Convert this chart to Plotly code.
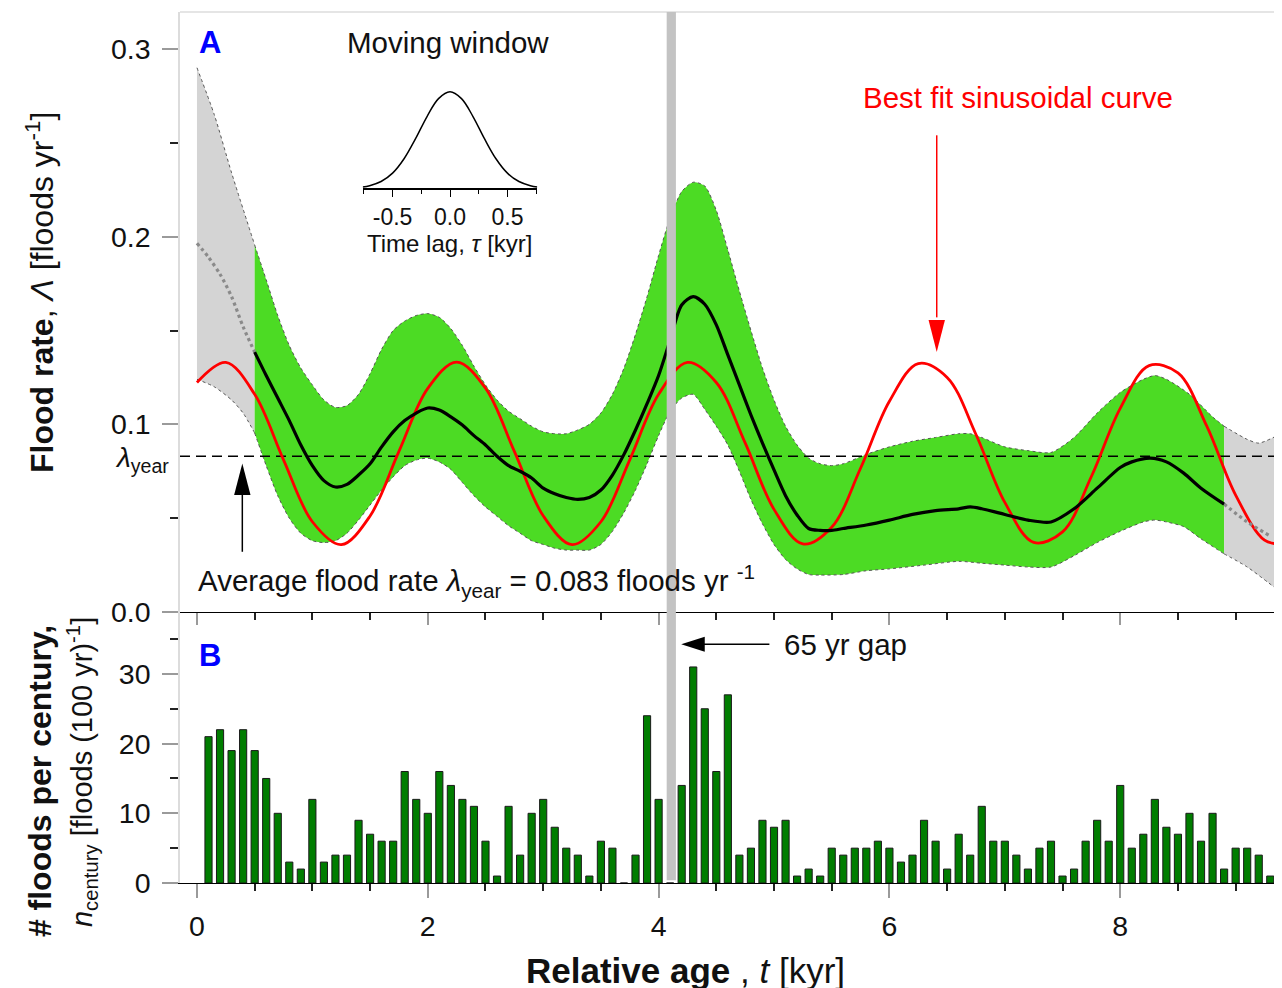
import plotly.graph_objects as go

FONT = "Liberation Sans, Arial, sans-serif"

# ---------------- data ----------------
# Panel B: number of floods per century (bar centres in kyr)
century_t = [0.1, 0.2, 0.3, 0.4, 0.5, 0.6, 0.7, 0.8, 0.9, 1.0,
             1.1, 1.2, 1.3, 1.4, 1.5, 1.6, 1.7, 1.8, 1.9, 2.0,
             2.1, 2.2, 2.3, 2.4, 2.5, 2.6, 2.7, 2.8, 2.9, 3.0,
             3.1, 3.2, 3.3, 3.4, 3.5, 3.6, 3.7, 3.8, 3.9, 4.0,
             4.1, 4.2, 4.3, 4.4, 4.5, 4.6, 4.7, 4.8, 4.9, 5.0,
             5.1, 5.2, 5.3, 5.4, 5.5, 5.6, 5.7, 5.8, 5.9, 6.0,
             6.1, 6.2, 6.3, 6.4, 6.5, 6.6, 6.7, 6.8, 6.9, 7.0,
             7.1, 7.2, 7.3, 7.4, 7.5, 7.6, 7.7, 7.8, 7.9, 8.0,
             8.1, 8.2, 8.3, 8.4, 8.5, 8.6, 8.7, 8.8, 8.9, 9.0,
             9.1, 9.2, 9.3]
floods_per_century = [21, 22, 19, 22, 19, 15, 10, 3, 2, 12,
                      3, 4, 4, 9, 7, 6, 6, 16, 12, 10,
                      16, 14, 12, 11, 6, 1, 11, 4, 10, 12,
                      8, 5, 4, 1, 6, 5, 0, 4, 24, 12,
                      0, 14, 31, 25, 16, 27, 4, 5, 9, 8,
                      9, 1, 2, 1, 5, 4, 5, 5, 6, 5,
                      3, 4, 9, 6, 2, 7, 4, 11, 6, 6,
                      4, 2, 5, 6, 1, 2, 6, 9, 6, 14,
                      5, 7, 12, 8, 7, 10, 6, 10, 2, 5,
                      5, 4, 1]

# Panel A: confidence band of the flood rate (floods / yr)
band_upper_t = [0.0, 0.15, 0.3, 0.5, 0.6, 0.7, 0.8, 0.9, 1.0, 1.1, 1.2, 1.3, 1.4, 1.5,
                1.6, 1.7, 1.8, 1.9, 2.0, 2.1, 2.2, 2.3, 2.4, 2.5, 2.6, 2.7, 2.8, 2.9,
                3.0, 3.1, 3.2, 3.3, 3.4, 3.5, 3.6, 3.7, 3.8, 3.9, 4.0, 4.1, 4.2, 4.3,
                4.4, 4.5, 4.6, 4.7, 4.8, 4.9, 5.0, 5.1, 5.2, 5.3, 5.4, 5.5, 5.6, 5.8,
                6.0, 6.2, 6.4, 6.6, 6.7, 6.8, 7.0, 7.2, 7.4, 7.6, 7.8, 8.0, 8.2, 8.3,
                8.4, 8.6, 8.8, 8.9, 9.1, 9.2, 9.36]
band_upper = [0.290, 0.265, 0.234, 0.1956, 0.177, 0.158, 0.142, 0.130, 0.121, 0.113,
              0.109, 0.110, 0.116, 0.127, 0.140, 0.150, 0.155, 0.158, 0.159, 0.157,
              0.151, 0.142, 0.131, 0.121, 0.113, 0.107, 0.103, 0.099, 0.096, 0.095,
              0.095, 0.097, 0.100, 0.106, 0.116, 0.130, 0.148, 0.168, 0.190, 0.210,
              0.224, 0.229, 0.227, 0.214, 0.193, 0.171, 0.150, 0.130, 0.113, 0.099,
              0.089, 0.082, 0.079, 0.078, 0.079, 0.084, 0.088, 0.091, 0.093, 0.095,
              0.095, 0.093, 0.088, 0.086, 0.085, 0.093, 0.106, 0.117, 0.124, 0.126,
              0.124, 0.116, 0.104, 0.099, 0.092, 0.090, 0.094]
band_lower_t = [0.0, 0.15, 0.3, 0.4, 0.5, 0.6, 0.7, 0.8, 0.9, 1.0, 1.1, 1.2, 1.3, 1.4,
                1.5, 1.6, 1.7, 1.8, 1.9, 2.0, 2.1, 2.2, 2.3, 2.4, 2.5, 2.6, 2.7, 2.8,
                2.9, 3.0, 3.1, 3.2, 3.3, 3.4, 3.5, 3.6, 3.7, 3.8, 3.9, 4.0, 4.1, 4.2,
                4.3, 4.4, 4.5, 4.6, 4.7, 4.8, 4.9, 5.0, 5.1, 5.2, 5.3, 5.4, 5.6, 5.8,
                6.0, 6.3, 6.6, 6.8, 7.0, 7.2, 7.4, 7.6, 7.8, 8.0, 8.2, 8.3, 8.4, 8.55,
                8.7, 8.9, 9.1, 9.36]
band_lower = [0.124, 0.120, 0.113, 0.106, 0.0954, 0.078, 0.062, 0.050, 0.042, 0.038,
              0.037, 0.038, 0.042, 0.049, 0.057, 0.065, 0.072, 0.078, 0.081, 0.082,
              0.080, 0.076, 0.069, 0.062, 0.056, 0.051, 0.046, 0.042, 0.038, 0.036,
              0.034, 0.033, 0.033, 0.033, 0.036, 0.043, 0.053, 0.065, 0.079, 0.094,
              0.107, 0.114, 0.116, 0.108, 0.099, 0.089, 0.075, 0.060, 0.047, 0.036,
              0.028, 0.023, 0.020, 0.0197, 0.020, 0.022, 0.023, 0.025, 0.027, 0.026,
              0.025, 0.024, 0.024, 0.030, 0.037, 0.043, 0.048, 0.049, 0.048, 0.0455,
              0.039, 0.031, 0.024, 0.012]

# Panel A: moving-window flood rate
mean_t = [0.0, 0.1, 0.2, 0.3, 0.4, 0.5, 0.6, 0.7, 0.8, 0.9, 1.0, 1.1, 1.2, 1.3, 1.4,
          1.5, 1.6, 1.7, 1.8, 1.9, 2.0, 2.1, 2.2, 2.3, 2.4, 2.5, 2.6, 2.7, 2.8, 2.9,
          3.0, 3.1, 3.2, 3.3, 3.4, 3.5, 3.6, 3.7, 3.8, 3.9, 4.0, 4.1, 4.2, 4.3, 4.4,
          4.5, 4.6, 4.7, 4.8, 4.9, 5.0, 5.1, 5.2, 5.3, 5.4, 5.5, 5.6, 5.8, 6.0, 6.2,
          6.4, 6.6, 6.7, 6.8, 7.0, 7.2, 7.4, 7.6, 7.8, 8.0, 8.1, 8.26, 8.4, 8.55, 8.7,
          8.9, 9.1, 9.3]
mean_rate = [0.1965, 0.189, 0.180, 0.168, 0.152, 0.1385, 0.126, 0.114, 0.102, 0.089,
             0.078, 0.070, 0.0666, 0.068, 0.073, 0.079, 0.088, 0.096, 0.102, 0.106,
             0.1087, 0.1076, 0.104, 0.0996, 0.094, 0.089, 0.083, 0.078, 0.075, 0.0714,
             0.066, 0.063, 0.061, 0.060, 0.061, 0.065, 0.073, 0.084, 0.097, 0.111,
             0.126, 0.145, 0.1636, 0.168, 0.164, 0.153, 0.137, 0.121, 0.105, 0.090,
             0.0757, 0.062, 0.0517, 0.0445, 0.0435, 0.0435, 0.0445, 0.0464, 0.049, 0.052,
             0.054, 0.055, 0.056, 0.055, 0.052, 0.049, 0.048, 0.055, 0.066, 0.077,
             0.080, 0.082, 0.080, 0.074, 0.066, 0.0575, 0.048, 0.0405]

# Panel A: best fit sinusoidal curve
sine_t = [0.0, 0.25, 0.5, 0.75, 1.0, 1.25, 1.5, 1.75, 2.0, 2.25, 2.5, 2.75, 3.0, 3.25,
          3.5, 3.75, 4.0, 4.25, 4.5, 4.75, 5.0, 5.25, 5.5, 5.75, 6.0, 6.25, 6.5, 6.75,
          7.0, 7.25, 7.5, 7.75, 8.0, 8.25, 8.5, 8.75, 9.0, 9.25, 9.4]
sine_rate = [0.1223, 0.1330, 0.1160, 0.0811, 0.0481, 0.0359, 0.0512, 0.0856, 0.1192,
             0.1332, 0.1193, 0.0856, 0.0513, 0.0359, 0.0481, 0.0811, 0.1160, 0.1330,
             0.1223, 0.0901, 0.0547, 0.0363, 0.0452, 0.0766, 0.1123, 0.1324, 0.1250,
             0.0946, 0.0584, 0.0371, 0.0427, 0.0722, 0.1085, 0.1313, 0.1274, 0.0990,
             0.0623, 0.0383, 0.0363]

lambda_year = 0.083          # average flood rate, floods / yr
observed_range = [0.5, 8.9]  # kyr, where the band is green
gap_range = [4.07, 4.15]     # 65 yr gap, kyr

# Inset: moving-window weight vs time lag
window_tau = [-0.76, -0.7, -0.6, -0.5, -0.4, -0.3, -0.2, -0.1, 0.0,
              0.1, 0.2, 0.3, 0.4, 0.5, 0.6, 0.7, 0.76]
window_weight = [0.014, 0.027, 0.070, 0.157, 0.306, 0.514, 0.744, 0.929, 1.0,
                 0.929, 0.744, 0.514, 0.306, 0.157, 0.070, 0.027, 0.014]

X_RANGE = [-0.147, 9.471]
YA_RANGE = [0, 0.3197]
YB_RANGE = [0, 38.88]
SPLIT = 0.3111


def part(ts, vs, lo, hi):
    pts = [(t, v) for t, v in zip(ts, vs) if lo - 1e-9 <= t <= hi + 1e-9]
    return [p[0] for p in pts], [p[1] for p in pts]


fig = go.Figure()

# confidence band segments
segments = [(0.0, observed_range[0], "#d4d4d4"),
            (observed_range[0], observed_range[1], "#4cdb24"),
            (observed_range[1], 9.5, "#d4d4d4")]
edge = dict(color="#555555", width=1, dash="dot", shape="spline", smoothing=0.7)
for lo, hi, col in segments:
    lx, ly = part(band_lower_t, band_lower, lo, hi)
    ux, uy = part(band_upper_t, band_upper, lo, hi)
    fig.add_trace(go.Scatter(x=lx, y=ly, mode="lines", line=edge,
                             xaxis="x", yaxis="y", hoverinfo="skip"))
    fig.add_trace(go.Scatter(x=ux, y=uy, mode="lines", line=edge, fill="tonexty",
                             fillcolor=col, xaxis="x", yaxis="y", hoverinfo="skip"))

# average flood rate line
fig.add_trace(go.Scatter(x=X_RANGE, y=[lambda_year, lambda_year], mode="lines",
                         line=dict(color="black", width=1.5, dash="10px,6px"),
                         xaxis="x", yaxis="y", hoverinfo="skip"))

# sinusoid
fig.add_trace(go.Scatter(x=sine_t, y=sine_rate, mode="lines",
                         line=dict(color="#ff0000", width=2.8, shape="spline", smoothing=1.0),
                         xaxis="x", yaxis="y"))

# mean flood rate: dotted outside observed range, solid inside
for lo, hi, sty in [(0.0, observed_range[0], "dot"), (observed_range[1], 9.5, "dot"),
                    (observed_range[0], observed_range[1], "solid")]:
    mx, my = part(mean_t, mean_rate, lo, hi)
    fig.add_trace(go.Scatter(x=mx, y=my, mode="lines",
                             line=dict(color="#8a8a8a" if sty == "dot" else "black",
                                       width=3.2, dash=sty, shape="spline", smoothing=0.8),
                             xaxis="x", yaxis="y"))

# bars
fig.add_trace(go.Bar(x=century_t, y=floods_per_century, width=0.062,
                     marker=dict(color="#007d00", line=dict(color="#1a1a1a", width=1)),
                     xaxis="x2", yaxis="y2"))

# inset kernel
fig.add_trace(go.Scatter(x=window_tau, y=window_weight, mode="lines",
                         line=dict(color="black", width=1.5, shape="spline", smoothing=1.0),
                         xaxis="x4", yaxis="y4"))

tick_font = dict(family=FONT, size=28.5, color="#111")

fig.update_layout(
    width=1282, height=988,
    margin=dict(l=172, r=0, t=4, b=113, autoexpand=False),
    paper_bgcolor="white", plot_bgcolor="rgba(0,0,0,0)",
    showlegend=False, hovermode=False,
    font=dict(family=FONT, size=28, color="#111"),
    xaxis=dict(domain=[0, 1], anchor="y", range=X_RANGE, showticklabels=False, automargin=False,
               showline=True, linecolor="black", linewidth=1, showgrid=False, zeroline=False,
               ticks="outside", tick0=0, dtick=2, ticklen=12, tickcolor="#9a9a9a", tickwidth=1.5,
               minor=dict(ticks="outside", dtick=0.5, tick0=0, ticklen=7, tickcolor="#222")),
    xaxis3=dict(overlaying="x", anchor="y", side="bottom", range=X_RANGE, showticklabels=False,
                automargin=False, showline=False, showgrid=False, zeroline=False,
                ticks="inside", tick0=0, dtick=2, ticklen=12, tickcolor="#9a9a9a", tickwidth=1.5,
                minor=dict(ticks="inside", dtick=0.5, tick0=0, ticklen=7, tickcolor="#222")),
    yaxis=dict(domain=[SPLIT, 1], anchor="x", range=YA_RANGE, tick0=0, dtick=0.1, automargin=False,
               tickformat=".1f", ticks="outside", ticklen=16, tickcolor="#9a9a9a", tickwidth=1.5,
               minor=dict(ticks="outside", dtick=0.05, tick0=0, ticklen=8, tickcolor="#222"),
               showline=True, linecolor="#dcdcdc", linewidth=1.5, showgrid=False, zeroline=False,
               tickfont=tick_font, ticklabelstandoff=6),
    xaxis2=dict(domain=[0, 1], anchor="y2", range=X_RANGE, tick0=0, dtick=2, automargin=False,
                ticks="outside", ticklen=14, tickcolor="#9a9a9a", tickwidth=1.5,
                minor=dict(ticks="outside", dtick=0.5, tick0=0, ticklen=7, tickcolor="#222"),
                showline=True, linecolor="black", linewidth=1, showgrid=False, zeroline=False,
                tickfont=tick_font, ticklabelstandoff=4),
    yaxis2=dict(domain=[0, SPLIT], anchor="x2", range=YB_RANGE, tick0=0, dtick=10, automargin=False,
                ticks="outside", ticklen=16, tickcolor="#9a9a9a", tickwidth=1.5,
                minor=dict(ticks="outside", dtick=5, tick0=0, ticklen=8, tickcolor="#222"),
                showline=True, linecolor="#dcdcdc", linewidth=1.5,
                showgrid=False, zeroline=False, tickfont=tick_font, ticklabelstandoff=6),
    yaxis5=dict(overlaying="y2", anchor="free", position=0.9928, side="right", range=YB_RANGE,
                automargin=False, showticklabels=False, showline=False, showgrid=False,
                zeroline=False, ticks="inside", tick0=0, dtick=10, ticklen=11,
                tickcolor="#9a9a9a", tickwidth=1.5,
                minor=dict(ticks="inside", dtick=5, tick0=0, ticklen=6, tickcolor="#222")),
    xaxis4=dict(domain=[0.1646, 0.3219], anchor="y4", range=[-0.76, 0.76], automargin=False,
                showline=True, linecolor="black", linewidth=1.5, showgrid=False, zeroline=False,
                ticks="outside", ticklen=7, tickcolor="black",
                tickvals=[-0.5, 0, 0.5], ticktext=["-0.5", "0.0", "0.5"],
                minor=dict(ticks="outside", tickvals=[-0.75, -0.25, 0.25, 0.75], ticklen=4,
                           tickcolor="black"),
                tickfont=dict(family=FONT, size=23, color="#111")),
    yaxis4=dict(domain=[0.7976, 0.9139], anchor="x4", range=[0, 1.05], visible=False,
                automargin=False),
)

# ---------------- shapes ----------------
shapes = [
    dict(type="line", xref="paper", yref="paper", x0=0, x1=1, y0=1, y1=1,
         line=dict(color="#dcdcdc", width=1.5)),
    dict(type="rect", xref="x", yref="y", x0=gap_range[0], x1=gap_range[1],
         y0=YA_RANGE[0], y1=YA_RANGE[1], fillcolor="#c3c3c3", line=dict(width=0), layer="above"),
    dict(type="rect", xref="x2", yref="y2", x0=gap_range[0], x1=gap_range[1],
         y0=0.4, y1=YB_RANGE[1], fillcolor="#c3c3c3", line=dict(width=0), layer="above"),
]

# black arrow to the average line
ax_t = 0.393
shapes += [
    dict(type="line", xref="x", yref="y", x0=ax_t, x1=ax_t, y0=0.0321, y1=0.064,
         line=dict(color="black", width=1.5), layer="above"),
    dict(type="path", xref="x", yref="y",
         path=f"M {ax_t-0.071},0.0623 L {ax_t},0.0792 L {ax_t+0.071},0.0623 Z",
         fillcolor="black", line=dict(width=0), layer="above"),
]
# red arrow to the sinusoid peak
rx = 6.41
shapes += [
    dict(type="line", xref="x", yref="y", x0=rx, x1=rx, y0=0.254, y1=0.157,
         line=dict(color="#ff0000", width=1.5), layer="above"),
    dict(type="path", xref="x", yref="y",
         path=f"M {rx-0.071},0.1556 L {rx},0.1385 L {rx+0.071},0.1556 Z",
         fillcolor="#ff0000", line=dict(width=0), layer="above"),
]
# gap arrow in panel B
gy = 34.25
shapes += [
    dict(type="line", xref="x2", yref="y2", x0=4.96, x1=4.38, y0=gy, y1=gy,
         line=dict(color="black", width=1.5), layer="above"),
    dict(type="path", xref="x2", yref="y2",
         path=f"M 4.40,{gy-1.08} L 4.196,{gy} L 4.40,{gy+1.08} Z",
         fillcolor="black", line=dict(width=0), layer="above"),
]
fig.update_layout(shapes=shapes)

# ---------------- annotations ----------------
def ann(text, x, y, xref="x", yref="y", size=29.5, color="#111", xanchor="center",
        yanchor="middle", angle=0):
    return dict(text=text, x=x, y=y, xref=xref, yref=yref, showarrow=False,
                xanchor=xanchor, yanchor=yanchor, textangle=angle,
                font=dict(family=FONT, size=size, color=color))


annotations = [
    ann("<b>A</b>", 0.113, 0.3032, size=31, color="#0000ff"),
    ann("<b>B</b>", 0.113, 32.7, xref="x2", yref="y2", size=31, color="#0000ff"),
    ann("Moving window", 2.175, 0.3032),
    ann("Time lag, <i>τ</i> [kyr]", 2.19, 0.1966, size=24),
    ann("Best fit sinusoidal curve", 7.11, 0.2744, color="#ff0000"),
    ann("Average flood rate <i>λ</i><sub>year</sub> = 0.083 floods yr <sup>-1</sup>",
        -0.01, 0.0165, xanchor="left"),
    ann("65 yr gap", 5.07, gy, xref="x2", yref="y2", xanchor="left"),
    ann("<i>λ</i><sub>year</sub>", -0.0081, 0.0815, xref="paper", yref="y", size=28,
        xanchor="right"),
    ann("<b>Relative age</b> , <i>t</i> [kyr]", 0.455, -0.0999, xref="paper", yref="paper",
        size=35),
    ann("<b>Flood rate</b>, <i>Λ</i> [floods yr<sup>-1</sup>]", -0.1261, 0.6774,
        xref="paper", yref="paper", size=32, angle=-90),
    ann("<b># floods per century,</b>", -0.1261, 0.117, xref="paper", yref="paper",
        size=32, angle=-90),
    ann("<i>n</i><sub>century</sub> [floods (100 yr)<sup>-1</sup>]", -0.0883, 0.1274,
        xref="paper", yref="paper", size=29, angle=-90),
]
fig.update_layout(annotations=annotations)

fig.write_html("out.html")
